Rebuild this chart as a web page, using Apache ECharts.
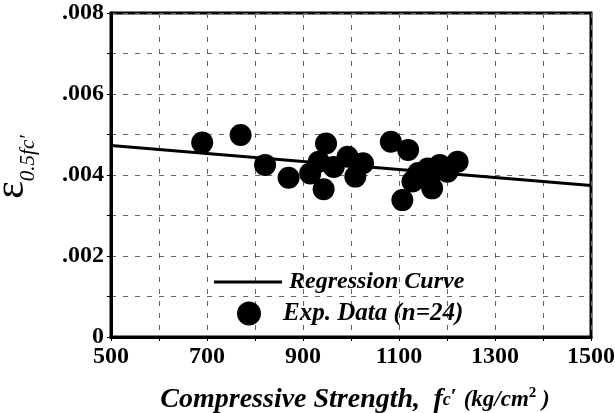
<!DOCTYPE html>
<html>
<head>
<meta charset="utf-8">
<script src="https://cdn.jsdelivr.net/npm/echarts@6/dist/echarts.min.js"></script>
<style>
  html, body { margin: 0; padding: 0; background: #fff; }
  #main { width: 615px; height: 413px; }
</style>
</head>
<body>
<div id="main"></div>
<script>
// compressive strength (kg/cm2) of each specimen
var strength = [690, 770, 821, 870, 915, 933, 948, 943, 964, 993, 1009, 1025,
  1083, 1119, 1107, 1128, 1148, 1160, 1169, 1177, 1185, 1201, 1222, 1140]
// strain at 0.5 fc'
var strain = [0.00480, 0.00499, 0.00425, 0.00393, 0.00404, 0.00433, 0.00478, 0.00365, 0.00420, 0.00445, 0.00396, 0.00429,
  0.00482, 0.00462, 0.00338, 0.00384, 0.00396, 0.00416, 0.00367, 0.00412, 0.00425, 0.00408, 0.00433, 0.00405]
// regression curve end points
var regX = [500, 1500]
var regY = [0.00473, 0.00374]

var xLabels = [500, 700, 900, 1100, 1300, 1500]
var yLabels = [0, 0.002, 0.004, 0.006, 0.008]

var serif = '"Liberation Serif", "DejaVu Serif", serif'

var chart = echarts.init(document.getElementById('main'))

var points = strength.map(function (x, i) { return [x, strain[i]] })
var regLine = regX.map(function (x, i) { return [x, regY[i]] })

var gridLine = {
  show: true,
  lineStyle: { color: '#666', type: [5, 7], width: 1 }
}

var option = {
  animation: false,
  grid: {
    left: 111,
    right: 24,
    top: 13,
    bottom: 76,
    outerBoundsMode: 'none',
    containLabel: false,
    show: true,
    borderColor: '#000',
    borderWidth: 3
  },
  legend: [
    {
      data: ['Regression Curve'],
      left: 209,
      top: 265,
      icon: 'rect',
      itemWidth: 68,
      itemHeight: 3,
      itemGap: 0,
      textStyle: {
        fontFamily: serif,
        fontStyle: 'italic',
        fontWeight: 'bold',
        fontSize: 24,
        color: '#000',
        padding: [0, 0, 0, 2]
      }
    },
    {
      data: ['Exp. Data (n=24)'],
      left: 232,
      top: 296,
      icon: 'circle',
      itemWidth: 24,
      itemHeight: 24,
      textStyle: {
        fontFamily: serif,
        fontStyle: 'italic',
        fontWeight: 'bold',
        fontSize: 25,
        color: '#000',
        padding: [0, 0, 0, 17]
      }
    }
  ],
  xAxis: {
    type: 'value',
    min: 500,
    max: 1500,
    interval: 100,
    name: '{t|Compressive Strength,}    {f|f}{c|c}{p|′}  {u|(kg/cm}{s|2}{u| )}',
    nameLocation: 'middle',
    nameGap: 49,
    nameTextStyle: {
      padding: [0, 0, 0, 8],
      rich: {
        t: { fontFamily: serif, fontStyle: 'italic', fontWeight: 'bold', fontSize: 28, color: '#000' },
        f: { fontFamily: serif, fontStyle: 'italic', fontWeight: 'bold', fontSize: 28, color: '#000' },
        c: { fontFamily: serif, fontStyle: 'italic', fontWeight: 'bold', fontSize: 18, color: '#000' },
        p: { fontFamily: serif, fontWeight: 'bold', fontSize: 22, color: '#000', verticalAlign: 'top' },
        u: { fontFamily: serif, fontStyle: 'italic', fontWeight: 'bold', fontSize: 23, color: '#000' },
        s: { fontFamily: serif, fontWeight: 'bold', fontSize: 15, color: '#000', verticalAlign: 'top' }
      }
    },
    axisLine: { show: true, lineStyle: { color: '#000', width: 3 } },
    axisTick: { show: true, length: 4, lineStyle: { color: '#000', width: 1 } },
    axisLabel: {
      margin: 8,
      fontFamily: serif,
      fontWeight: 'bold',
      fontSize: 24,
      color: '#000',
      showMaxLabel: true,
      formatter: function (v) {
        return xLabels.indexOf(v) >= 0 ? String(v) : ''
      }
    },
    splitLine: gridLine
  },
  yAxis: {
    type: 'value',
    min: 0,
    max: 0.008,
    interval: 0.001,
    name: '{e|ε}{s|0.5fc′}',
    nameLocation: 'middle',
    nameGap: 78,
    nameTextStyle: {
      padding: [0, 0, 0, 16],
      rich: {
        e: { fontFamily: serif, fontSize: 42, color: '#000' },
        s: { fontFamily: serif, fontStyle: 'italic', fontSize: 21, color: '#000', verticalAlign: 'bottom', padding: [0, 0, -6, 0] }
      }
    },
    axisLine: { show: true, lineStyle: { color: '#000', width: 3 } },
    axisTick: { show: true, length: 4, lineStyle: { color: '#000', width: 1 } },
    axisLabel: {
      margin: 7,
      fontFamily: serif,
      fontWeight: 'bold',
      fontSize: 24,
      color: '#000',
      formatter: function (v) {
        var r = Math.round(v * 1000) / 1000
        if (yLabels.indexOf(r) < 0) return ''
        if (r === 0) return '0'
        return r.toFixed(3).replace(/^0/, '')
      }
    },
    splitLine: gridLine
  },
  series: [
    {
      name: 'Regression Curve',
      type: 'line',
      data: regLine,
      symbol: 'none',
      lineStyle: { color: '#000', width: 3 },
      itemStyle: { color: '#000' },
      z: 3
    },
    {
      name: 'Exp. Data (n=24)',
      type: 'scatter',
      data: points,
      symbol: 'circle',
      symbolSize: 22,
      itemStyle: { color: '#000', opacity: 1 },
      z: 4
    }
  ]
}

chart.setOption(option, true)
</script>
</body>
</html>
